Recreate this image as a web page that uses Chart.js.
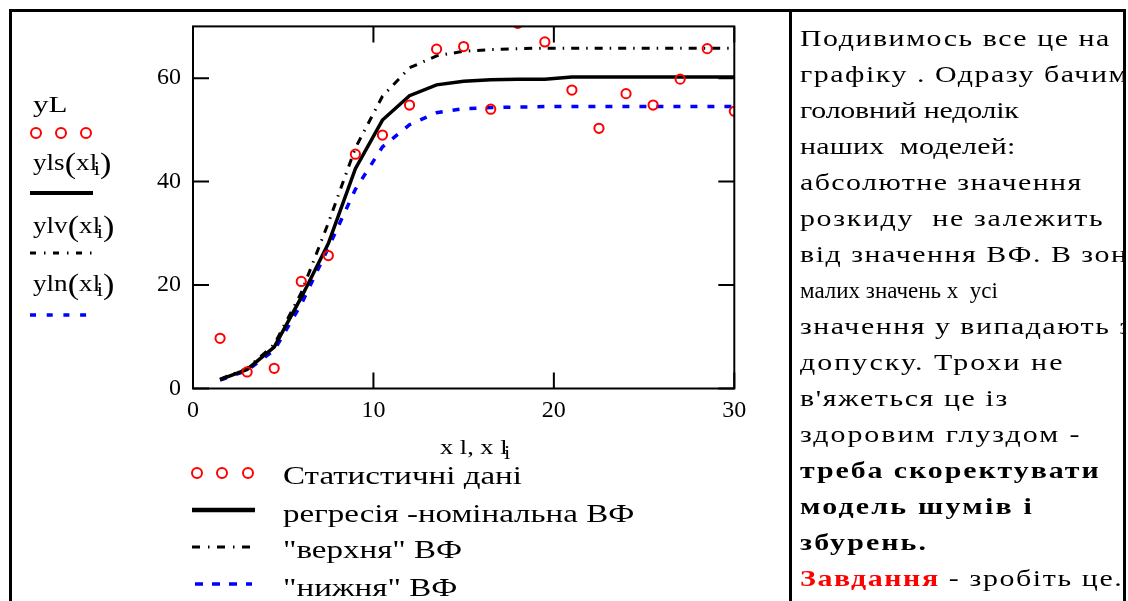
<!DOCTYPE html>
<html><head><meta charset="utf-8">
<script src="https://cdn.jsdelivr.net/npm/chart.js@4/dist/chart.umd.min.js"></script>
<style>
html,body{margin:0;padding:0;background:#fff;}
#wrap{position:relative;width:1128px;height:601px;overflow:hidden;font-family:'Liberation Serif','DejaVu Serif',serif;color:#000;}
#c{position:absolute;left:0;top:0;}
.frame{position:absolute;left:9px;top:9px;width:1117px;height:700px;border:3px solid #000;box-sizing:border-box;}
.divider{position:absolute;left:789px;top:9px;width:3px;height:700px;background:#000;}
.s{display:inline-block;transform-origin:0 50%;white-space:nowrap;}
.lab{position:absolute;white-space:nowrap;line-height:1;font-size:23px;}
.lab .s{transform:scaleX(1.18);}
.lab sub{font-size:19px;vertical-align:-5px;margin-left:-3px;}
.par{font-size:29px;vertical-align:-3px;}
#note{position:absolute;left:792px;top:21px;width:331px;height:600px;overflow:hidden;font-size:23px;line-height:36px;padding-left:8px;box-sizing:border-box;}
#note div{white-space:nowrap;}
#note .s{transform:scaleX(1.3);}
.leg{position:absolute;left:283px;font-size:25px;line-height:1;white-space:nowrap;}
.leg .s{transform:scaleX(1.32);}
svg{position:absolute;overflow:visible;}
</style>
</head><body>
<div id="wrap">
<canvas id="c" width="1128" height="601"></canvas>
<div class="frame"></div>
<div class="divider"></div>

<!-- y-axis title block -->
<div class="lab" style="left:33px;top:93px;"><span class="s" style="transform:scaleX(1.35)">yL</span></div>
<svg style="left:0;top:0;" width="1" height="1"><g fill="none" stroke="#ff0000" stroke-width="2">
<circle cx="36" cy="133" r="5"/><circle cx="61" cy="133" r="5"/><circle cx="86" cy="133" r="5"/></g></svg>
<div class="lab" style="left:33px;top:149px;"><span class="s">yls<span class="par">(</span>xl<sub>i</sub><span class="par">)</span></span></div>
<svg style="left:0;top:0;" width="1" height="1"><line x1="30" y1="193" x2="93" y2="193" stroke="#000" stroke-width="4"/></svg>
<div class="lab" style="left:33px;top:212px;"><span class="s">ylv<span class="par">(</span>xl<sub>i</sub><span class="par">)</span></span></div>
<svg style="left:0;top:0;" width="1" height="1"><line x1="30" y1="253" x2="93" y2="253" stroke="#000" stroke-width="3" stroke-dasharray="6 8 1.5 7.5"/></svg>
<div class="lab" style="left:33px;top:270px;"><span class="s">yln<span class="par">(</span>xl<sub>i</sub><span class="par">)</span></span></div>
<svg style="left:0;top:0;" width="1" height="1"><line x1="30" y1="315" x2="90" y2="315" stroke="#0000ff" stroke-width="3.5" stroke-dasharray="6 10.7"/></svg>

<!-- x-axis title -->
<div class="lab" style="left:440px;top:436px;font-size:22px;"><span class="s" style="transform:scaleX(1.2)">x l, x l<sub>i</sub></span></div>

<!-- bottom legend -->
<svg style="left:0;top:0;" width="1" height="1"><g fill="none" stroke="#ff0000" stroke-width="2">
<circle cx="197" cy="473" r="5"/><circle cx="222" cy="473" r="5"/><circle cx="248" cy="473" r="5"/></g>
<line x1="192" y1="510" x2="255" y2="510" stroke="#000" stroke-width="4.5"/>
<line x1="192" y1="547" x2="255" y2="547" stroke="#000" stroke-width="3" stroke-dasharray="8 8 1.5 7.5"/>
<line x1="195" y1="584" x2="252" y2="584" stroke="#0000ff" stroke-width="3.5" stroke-dasharray="8 9"/>
</svg>
<div class="leg" style="top:463px;"><span class="s">Статистичні дані</span></div>
<div class="leg" style="top:501px;"><span class="s">регресія -номінальна ВФ</span></div>
<div class="leg" style="top:537px;"><span class="s">"верхня" ВФ</span></div>
<div class="leg" style="top:575px;"><span class="s">"нижня" ВФ</span></div>

<!-- right note -->
<div id="note">
<div><span class="s" style="letter-spacing:1.17px">Подивимось все це на</span></div>
<div><span class="s" style="letter-spacing:1.18px">графіку . Одразу бачимо</span></div>
<div><span class="s" style="letter-spacing:-0.16px">головний недолік</span></div>
<div><span class="s" style="letter-spacing:0.17px">наших&nbsp; моделей:</span></div>
<div><span class="s" style="letter-spacing:1.1px">абсолютне значення</span></div>
<div><span class="s" style="letter-spacing:1.28px">розкиду&nbsp; не залежить</span></div>
<div><span class="s" style="letter-spacing:1.17px">від значення ВФ. В зоні</span></div>
<div><span class="s" style="transform:scaleX(1.0)">малих значень х&nbsp; усі</span></div>
<div><span class="s" style="letter-spacing:1.15px">значення у випадають з</span></div>
<div><span class="s" style="letter-spacing:1.59px">допуску. Трохи не</span></div>
<div><span class="s" style="letter-spacing:1.23px">в'яжеться це із</span></div>
<div><span class="s" style="letter-spacing:1.53px">здоровим глуздом -</span></div>
<div><span class="s" style="letter-spacing:1.48px"><b>треба скоректувати</b></span></div>
<div><span class="s" style="letter-spacing:1.71px"><b>модель шумів і</b></span></div>
<div><span class="s" style="letter-spacing:1.63px"><b>збурень.</b></span></div>
<div><span class="s" style="letter-spacing:1.24px"><b style="color:#ff0000;">Завдання</b> - зробіть це.</span></div>
</div>
</div>

<script>
// ---- data ----
const xl  = [1.5, 3, 4.5, 6, 7.5, 9, 10.5, 12, 13.5, 15, 16.5, 18, 19.5, 21, 22.5, 24, 25.5, 27, 28.5, 30];
const yL  = [9.7, 3.2, 3.9, 20.7, 25.7, 45.3, 49.0, 54.8, 65.6, 66.1, 54.0, 70.6, 67.0, 57.7, 50.3, 57.0, 54.8, 59.8, 65.7, 53.6];
const yls = [1.7, 3.7, 8.0, 17.6, 28.0, 42.5, 51.9, 56.6, 58.7, 59.4, 59.7, 59.8, 59.8, 60.2, 60.2, 60.2, 60.2, 60.2, 60.2, 60.2];
const ylv = [1.8, 3.9, 8.5, 18.5, 32.0, 46.5, 56.5, 62.0, 64.3, 65.2, 65.5, 65.7, 65.8, 65.8, 65.8, 65.8, 65.8, 65.8, 65.8, 65.8];
const yln = [1.6, 3.5, 7.4, 16.3, 27.2, 38.5, 46.7, 51.0, 53.3, 54.1, 54.3, 54.4, 54.5, 54.5, 54.5, 54.5, 54.5, 54.5, 54.5, 54.5];
const xTicks = [0, 10, 20, 30];
const yTicks = [0, 20, 40, 60];

const pts = arr => xl.map((x, i) => ({x, y: arr[i]}));

const frameTicks = {
  id: 'frameTicks',
  afterDatasetsDraw(chart) {
    const {ctx, chartArea: a, scales: {x, y}} = chart;
    const L = 16;
    ctx.save();
    ctx.strokeStyle = '#000';
    ctx.lineWidth = 2;
    ctx.strokeRect(a.left, a.top, a.right - a.left, a.bottom - a.top);
    ctx.beginPath();
    x.ticks.forEach(t => {
      const p = x.getPixelForValue(t.value);
      ctx.moveTo(p, a.bottom); ctx.lineTo(p, a.bottom - L);
      ctx.moveTo(p, a.top); ctx.lineTo(p, a.top + L);
    });
    y.ticks.forEach(t => {
      const p = y.getPixelForValue(t.value);
      ctx.moveTo(a.left, p); ctx.lineTo(a.left + L, p);
      ctx.moveTo(a.right, p); ctx.lineTo(a.right - L, p);
    });
    ctx.stroke();
    ctx.restore();
  }
};

new Chart(document.getElementById('c'), {
  type: 'line',
  data: {
    datasets: [
      { label: 'Статистичні дані', data: pts(yL), showLine: false, pointStyle: 'circle', pointRadius: 4.6, pointBorderWidth: 2,
        borderColor: '#ff0000', backgroundColor: 'rgba(0,0,0,0)', pointBackgroundColor: 'rgba(0,0,0,0)', clip: 0 },
      { label: 'регресія -номінальна ВФ', data: pts(yls), borderColor: '#000', borderWidth: 3.5, pointRadius: 0, tension: 0, fill: false, clip: 0 },
      { label: '"верхня" ВФ', data: pts(ylv), borderColor: '#000', borderWidth: 3, borderDash: [8, 7, 1.5, 7], pointRadius: 0, tension: 0, fill: false, clip: 0 },
      { label: '"нижня" ВФ', data: pts(yln), borderColor: '#0000ff', borderWidth: 3.5, borderDash: [7, 10], pointRadius: 0, tension: 0, fill: false, clip: 0 }
    ]
  },
  options: {
    responsive: false,
    animation: false,
    events: [],
    layout: { padding: { left: 0, right: 393.7, top: 23.5, bottom: 0 } },
    plugins: { legend: { display: false }, tooltip: { enabled: false } },
    scales: {
      x: {
        type: 'linear', min: 0, max: 30,
        afterBuildTicks: s => { s.ticks = xTicks.map(v => ({value: v})); },
        afterFit: s => { s.height = 212.5; },
        grid: { display: false, drawTicks: false },
        border: { display: false },
        ticks: { color: '#000', padding: 8, maxRotation: 0, font: { family: "'Liberation Serif', serif", size: 24 } }
      },
      y: {
        type: 'linear', min: 0, max: 70,
        afterBuildTicks: s => { s.ticks = yTicks.map(v => ({value: v})); },
        afterFit: s => { s.width = 193; },
        grid: { display: false, drawTicks: false },
        border: { display: false },
        ticks: { color: '#000', padding: 12, font: { family: "'Liberation Serif', serif", size: 24 } }
      }
    }
  },
  plugins: [frameTicks]
});
</script>
</body></html>
